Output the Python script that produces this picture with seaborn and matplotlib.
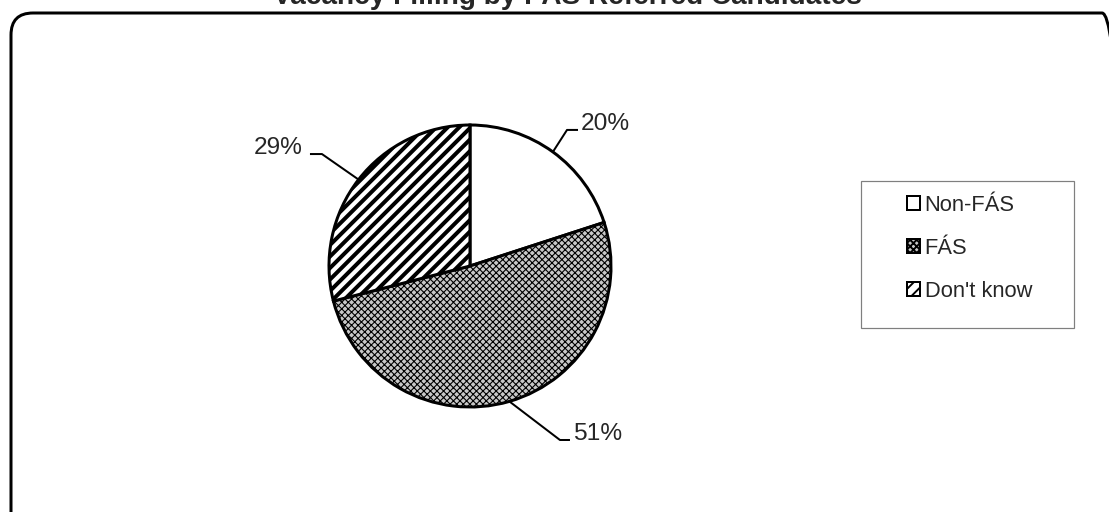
import matplotlib
matplotlib.use("Agg")
import matplotlib.pyplot as plt
from matplotlib.patches import FancyBboxPatch, Patch, Rectangle
from matplotlib.transforms import IdentityTransform
import numpy as np
import seaborn as sns

# data
categories = ["Non-FÁS", "FÁS", "Don't know"]
shares = [20, 51, 29]
title = "Vacancy Filling by FÁS Referred Candidates"

# styles
fill_colors = ["white", "#c8c8c8", "white"]
hatches = [None, "xxxxxxx", "////"]
hatch_widths_px = [1.0, 1.1, 4.0]

W, H = 1109, 512
DPI = 138.625


def pt(px):
    """pixels -> points at the figure dpi"""
    return px * 72 / DPI


sns.set_theme(style="white")
plt.rcParams["font.family"] = ["Liberation Sans", "DejaVu Sans"]

fig = plt.figure(figsize=(W / DPI, H / DPI), dpi=DPI)
fig.patch.set_facecolor("white")

# outer rounded chart frame, runs off the right and bottom edges
frame = FancyBboxPatch((11, -40), 1124 - 11, (H - 13) + 40,
                       boxstyle="round,pad=0,rounding_size=22",
                       transform=IdentityTransform(), fill=False,
                       edgecolor="black", linewidth=pt(3), clip_on=False)
fig.patches.append(frame)

fig.text(567 / W, 1 - 4 / H, title, ha="center", va="baseline",
         fontsize=pt(28), fontweight="bold")

# pie
cx, cy, r = 470, 266, 141
pad = 1.05
ax = fig.add_axes([(cx - r * pad) / W, (H - cy - r * pad) / H,
                   2 * r * pad / W, 2 * r * pad / H])
wedges, _ = ax.pie(shares, startangle=90, counterclock=False, colors=fill_colors,
                   wedgeprops=dict(edgecolor="black", linewidth=pt(3), clip_on=False))
for w, h, hw in zip(wedges, hatches, hatch_widths_px):
    if h:
        w.set_hatch(h)
    if hasattr(w, "set_hatch_linewidth"):
        w.set_hatch_linewidth(pt(hw))
ax.set_xlim(-pad, pad)
ax.set_ylim(-pad, pad)
ax.set_aspect("equal")
ax.axis("off")

# leader lines: elbow (x, y), end of horizontal tick, text x, alignment (radius units)
label_layout = {
    "Non-FÁS": ((0.688, 0.965), 0.766, 0.787, "left"),
    "FÁS": ((0.638, -1.234), 0.709, 0.730, "left"),
    "Don't know": ((-1.05, 0.794), -1.135, -1.184, "right"),
}
for w, cat, v in zip(wedges, categories, shares):
    mid = np.deg2rad((w.theta1 + w.theta2) / 2)
    ex, ey = np.cos(mid), np.sin(mid)
    (bx, by), endx, tx, ha = label_layout[cat]
    ax.plot([ex, bx, endx], [ey, by, by], color="black", lw=pt(2),
            clip_on=False, solid_capstyle="butt")
    ax.text(tx, by, f"{v}%", ha=ha, va="baseline", fontsize=pt(24.5))

# legend box
fig.patches.append(Rectangle((861, H - 328), 213, 147, transform=IdentityTransform(),
                             fill=False, edgecolor="#7f7f7f", linewidth=pt(1.2)))
handles = [Patch(facecolor=c, edgecolor="black", hatch=h, linewidth=pt(2))
           for c, h in zip(fill_colors, hatches)]
leg = fig.legend(handles, categories, loc="upper left",
                 bbox_to_anchor=(907 / W, 1 - 195 / H), frameon=False,
                 borderpad=0, borderaxespad=0, fontsize=pt(21.9),
                 handlelength=0.6, handleheight=0.6, handletextpad=0.2,
                 labelspacing=1.0)

fig.savefig("out.png", dpi=DPI, facecolor="white")
